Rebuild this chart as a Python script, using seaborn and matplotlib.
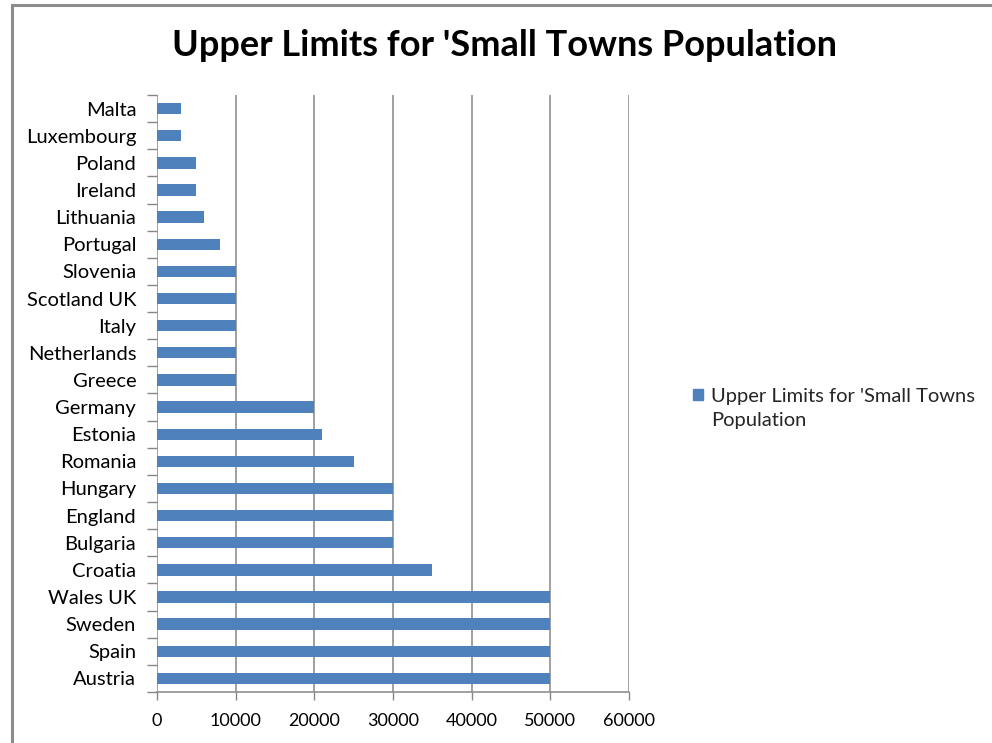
import matplotlib
matplotlib.use("Agg")
import matplotlib.pyplot as plt
import matplotlib.patches as mpatches
import numpy as np
import pandas as pd
import seaborn as sns

# Upper population limits for a "small town", by country (top to bottom)
countries = ["Malta", "Luxembourg", "Poland", "Ireland", "Lithuania", "Portugal",
             "Slovenia", "Scotland UK", "Italy", "Netherlands", "Greece", "Germany",
             "Estonia", "Romania", "Hungary", "England", "Bulgaria", "Croatia",
             "Wales UK", "Sweden", "Spain", "Austria"]
upper_limits = [3000, 3000, 5000, 5000, 6000, 8000,
                10000, 10000, 10000, 10000, 10000, 20000,
                21000, 25000, 30000, 30000, 30000, 35000,
                50000, 50000, 50000, 50000]
x_ticks = [0, 10000, 20000, 30000, 40000, 50000, 60000]
series_name = "Upper Limits for 'Small Towns Population"

df = pd.DataFrame({"Country": countries, "Limit": upper_limits})

sns.set_theme(style="white")
plt.rcParams["font.family"] = ["Lato", "DejaVu Sans"]

fig = plt.figure(figsize=(9.92, 7.43), dpi=100)
ax = fig.add_axes([157 / 992, 1 - 692 / 743, (629 - 157) / 992, (692 - 95) / 743])

bar_color = "#4F81BD"
sns.barplot(data=df, x="Limit", y="Country", orient="h", color=bar_color,
            width=0.42, saturation=1, linewidth=0, ax=ax, zorder=3)

grid_color = "#868686"
ax.set_xlim(0, 60000)
ax.set_ylim(len(countries) - 0.5, -0.5)
ax.set_xticks(x_ticks)
ax.set_xticklabels([str(t) for t in x_ticks], fontsize=13, color="#000000")
ax.xaxis.grid(True, color=grid_color, linewidth=1.1, zorder=0)
ax.yaxis.grid(False)

# category labels at bar centres, tick marks at category boundaries
ax.set_yticks(np.arange(len(countries)))
ax.set_yticklabels(countries, fontsize=14.5, color="#000000")
ax.set_yticks(np.arange(-0.5, len(countries), 1.0), minor=True)
ax.tick_params(axis="y", which="major", length=0, pad=15)
ax.tick_params(axis="y", which="minor", length=7, width=1, color=grid_color, left=True)
ax.tick_params(axis="x", which="major", length=6, width=1, color=grid_color,
               bottom=True, pad=9)

for side in ["top", "right", "left"]:
    ax.spines[side].set_visible(False)
ax.spines["bottom"].set_color(grid_color)
ax.spines["bottom"].set_linewidth(1.1)
ax.set_xlabel("")
ax.set_ylabel("")

fig.text(505 / 992, 1 - 46 / 743, series_name, ha="center", va="center",
         fontsize=26, fontweight="bold", color="#000000")

# legend: marker sits beside the first line, the label wraps onto a second line
handle = mpatches.Patch(color=bar_color)
leg = fig.legend([handle], ["Upper Limits for 'Small Towns"],
                 loc="center left", bbox_to_anchor=(685 / 992, 1 - 396 / 743),
                 frameon=False, fontsize=14.5, handlelength=0.5, handleheight=0.5,
                 handletextpad=0.4, borderaxespad=0)
fig.canvas.draw()
label_x = leg.get_texts()[0].get_window_extent().x0 / fig.bbox.width
fig.text(label_x, 1 - 421 / 743, "Population", ha="left", va="center",
         fontsize=14.5, color="#262626")

# chart area border
fig.patches.append(mpatches.Rectangle((11.5 / 992, -0.05), 1.1, 1 - 4.5 / 743 + 0.05,
                                      transform=fig.transFigure, fill=False,
                                      edgecolor="#8C8C8C", linewidth=2.2))

fig.savefig("out.png", dpi=100)
